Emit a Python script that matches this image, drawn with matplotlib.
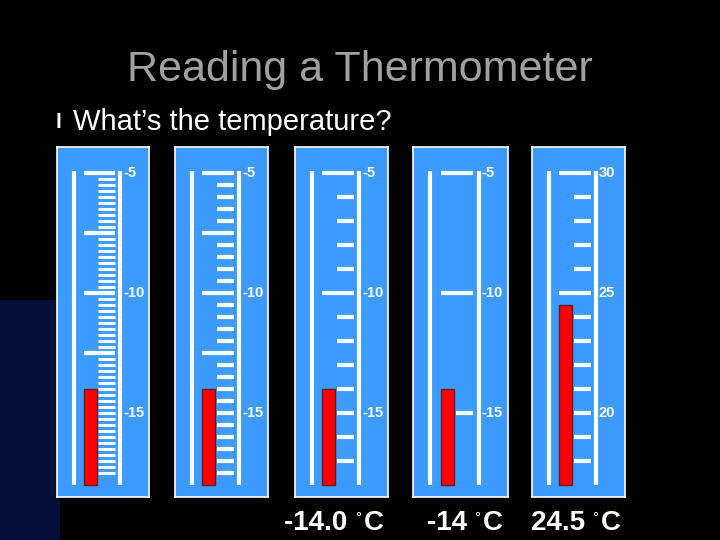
import matplotlib
matplotlib.use("Agg")
import matplotlib.pyplot as plt
import numpy as np
from matplotlib.patches import Rectangle, Arc

plt.rcParams['font.family'] = ['Liberation Sans', 'DejaVu Sans']

# data
readings = [-14.0, -14.0, -14.0, -14.0, 24.5]
answers = ["", "", "-14.0", "-14", "24.5"]
top_vals = [-5, -5, -5, -5, 30]
minor_steps = [0.25, 0.5, 1.0, 5.0, 1.0]
long_steps = [2.5, 2.5, 5.0, 5.0, 5.0]
label_vals = [[-5, -10, -15], [-5, -10, -15], [-5, -10, -15], [-5, -10, -15], [30, 25, 20]]
tick_span = [12.5, 12.5, 12.0, 10.0, 12.0]
# panel pixel positions (left, right)
panel_x = [(57, 149), (175, 268), (295, 388), (413, 508), (532, 625)]

W, H = 720, 540
fig = plt.figure(figsize=(7.2, 5.4), dpi=100)
fig.patch.set_facecolor('black')

bg = fig.add_axes([0, 0, 1, 1])
bg.set_xlim(0, W); bg.set_ylim(H, 0); bg.axis('off')
for i, (r, a) in enumerate([(260, 0.35), (300, 0.55), (340, 0.4), (380, 0.3), (420, 0.2)]):
    bg.add_patch(Arc((-60, 640), 2 * r, 2 * r, theta1=0, theta2=90, color='#1838c0', lw=5, alpha=a))
bg.add_patch(Rectangle((0, 300), 60, 240, facecolor='#0a1a70', alpha=0.5, lw=0))
bg.text(360, 70, "Reading a Thermometer", color='#a0a0a0', fontsize=31, ha='center', va='center')
bg.text(58, 123, "l", color='white', fontsize=15, ha='center', va='center', fontweight='bold')
bg.text(73, 122, "What’s the temperature?", color='white', fontsize=21, ha='left', va='center')

top_px, bot_px = 147, 497
ppu = 24.0
for k in range(5):
    x0, x1 = panel_x[k]
    ax = fig.add_axes([x0 / W, 1 - bot_px / H, (x1 - x0) / W, (bot_px - top_px) / H])
    ax.set_facecolor('#3d9bff')
    tv = top_vals[k]
    ymax = tv + 26 / ppu
    ymin = ymax - (bot_px - top_px) / ppu
    ax.set_xlim(0, 1); ax.set_ylim(ymin, ymax)
    ax.set_xticks([]); ax.set_yticks([])
    for s in ax.spines.values():
        s.set_color('white'); s.set_linewidth(1.2)
    yb = tv - 13.0
    ax.plot([0.18, 0.18], [tv + 0.1, yb], color='white', lw=3, solid_capstyle='butt')
    ax.plot([0.69, 0.69], [tv + 0.1, yb], color='white', lw=3, solid_capstyle='butt')
    n = int(round(tick_span[k] / minor_steps[k]))
    lw = 2.2 if minor_steps[k] < 0.5 else 3
    for i in range(n + 1):
        v = tv - i * minor_steps[k]
        rel = (tv - v) / long_steps[k]
        is_long = abs(rel - round(rel)) < 1e-6 and (tv - v) < 8
        if k == 3 and abs(v + 15) < 1e-6:
            is_long = False
        x_start = 0.29 if is_long else 0.45
        ax.plot([x_start, 0.63], [v, v], color='white', lw=3 if is_long else lw,
                solid_capstyle='butt')
    ax.add_patch(Rectangle((0.29, yb), 0.14, readings[k] - yb, facecolor='#ff0000',
                           edgecolor='#602020', lw=1, zorder=3))
    for v in label_vals[k]:
        ax.text(0.72, v, f"{v}", color='white', fontsize=10.5, ha='left', va='center',
                fontweight='bold')
    if answers[k]:
        cx = (x0 + x1) / 2
        t = bg.text(cx + 14, 523, answers[k] + " ", color='white', fontsize=20,
                    ha='right', va='center', fontweight='bold')
        bg.text(cx + 14, 518, "°", color='white', fontsize=11, ha='left', va='center')
        bg.text(cx + 22, 523, "C", color='white', fontsize=20, ha='left', va='center',
                fontweight='bold')

fig.savefig("out.png", dpi=100, facecolor='black')
